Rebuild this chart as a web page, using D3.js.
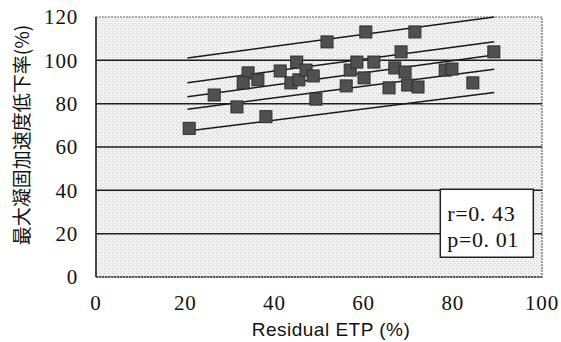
<!DOCTYPE html>
<html>
<head>
<meta charset="utf-8">
<script src="https://cdn.jsdelivr.net/npm/d3@7/dist/d3.min.js"></script>
<style>
  body { margin: 0; background: #fff; }
</style>
</head>
<body>
<div id="chart"></div>
<script>
// data
const etp = [20.9, 26.5, 31.6, 38.1, 34.1, 33.0, 36.3, 41.3, 45.0, 43.7, 45.5, 47.1, 48.7, 49.3, 51.8, 56.1,
  57.0, 58.5, 60.1, 60.5, 62.3, 65.7, 67.0, 68.4, 69.3, 69.9, 71.5, 72.2, 78.3, 79.8, 84.5, 89.2];
const decline = [68.6, 84.0, 78.5, 74.0, 94.2, 89.6, 91.0, 95.1, 99.2, 89.6, 91.0, 95.5, 92.8, 82.1, 108.5, 88.2,
  95.5, 99.2, 91.9, 113.1, 99.2, 87.3, 96.5, 103.9, 94.6, 88.6, 113.1, 87.7, 95.5, 96.0, 89.6, 103.9];

// fit line + bands, start / end
const lineX = [20.5, 89.3];
const lineStartY = [101.1, 89.7, 83.2, 77.4, 67.4];
const lineEndY = [120, 108.6, 102.5, 95.9, 85.1];

const xTicks = [0, 20, 40, 60, 80, 100];
const yTicks = [0, 20, 40, 60, 80, 100, 120];
const statLines = ['r=0. 43', 'p=0. 01'];
const xTitle = 'Residual ETP (%)';
const yTitle = '最大凝固加速度低下率(%)';

const width = 561, height = 342;
const margin = { top: 17, right: 19, bottom: 65, left: 96 };
const innerW = width - margin.left - margin.right;
const innerH = height - margin.top - margin.bottom;

const svg = d3.select('#chart').append('svg')
  .attr('width', width)
  .attr('height', height);

const x = d3.scaleLinear().domain([0, 100]).range([0, innerW]);
const y = d3.scaleLinear().domain([0, 120]).range([innerH, 0]);

const g = svg.append('g')
  .attr('transform', `translate(${margin.left},${margin.top})`);

// stippled grey plot area
const defs = svg.append('defs');
const pat = defs.append('pattern')
  .attr('id', 'stipple')
  .attr('width', 4).attr('height', 4)
  .attr('patternUnits', 'userSpaceOnUse');
pat.append('rect').attr('width', 4).attr('height', 4).attr('fill', '#f2f2f2');
pat.append('rect').attr('x', 0).attr('y', 0).attr('width', 1).attr('height', 1).attr('fill', '#c4c4c4');
pat.append('rect').attr('x', 2).attr('y', 2).attr('width', 1).attr('height', 1).attr('fill', '#cdcdcd');

g.append('rect')
  .attr('width', innerW)
  .attr('height', innerH)
  .attr('fill', 'url(#stipple)')
  .attr('stroke', '#666')
  .attr('stroke-width', 1.2)
  .attr('stroke-dasharray', '2,1');

// gridlines
g.selectAll('.grid')
  .data(yTicks.filter(d => d > 0 && d < 120))
  .enter().append('line')
  .attr('class', 'grid')
  .attr('x1', 0).attr('x2', innerW)
  .attr('y1', d => y(d)).attr('y2', d => y(d))
  .attr('stroke', '#1e1e1e')
  .attr('stroke-width', 1.5);

// left and bottom axis lines
g.append('line')
  .attr('x1', 0).attr('x2', 0).attr('y1', 0).attr('y2', innerH)
  .attr('stroke', '#222').attr('stroke-width', 1.5);
g.append('line')
  .attr('x1', 0).attr('x2', innerW).attr('y1', innerH).attr('y2', innerH)
  .attr('stroke', '#333').attr('stroke-width', 1.5).attr('stroke-dasharray', '2,1');

// tick labels
const serif = '"Liberation Serif", "DejaVu Serif", serif';
g.selectAll('.ylab')
  .data(yTicks)
  .enter().append('text')
  .attr('class', 'ylab')
  .attr('x', -18)
  .attr('y', d => y(d))
  .attr('dy', '0.35em')
  .attr('text-anchor', 'end')
  .attr('font-family', serif)
  .attr('font-size', 21)
  .attr('letter-spacing', 0.8)
  .attr('fill', '#111')
  .text(d => d);

g.selectAll('.xlab')
  .data(xTicks)
  .enter().append('text')
  .attr('class', 'xlab')
  .attr('x', d => x(d))
  .attr('y', innerH + 33)
  .attr('text-anchor', 'middle')
  .attr('font-family', serif)
  .attr('font-size', 21)
  .attr('letter-spacing', 0.8)
  .attr('fill', '#111')
  .text(d => d);

// titles
svg.append('text')
  .attr('x', 331)
  .attr('y', height - 6)
  .attr('text-anchor', 'middle')
  .attr('font-family', '"Liberation Sans", Arial, sans-serif')
  .attr('font-size', 19)
  .attr('letter-spacing', 0.5)
  .attr('fill', '#111')
  .text(xTitle);

svg.append('text')
  .attr('transform', `translate(29,${margin.top + innerH / 2 - 12}) rotate(-90)`)
  .attr('text-anchor', 'middle')
  .attr('font-family', '"Noto Sans CJK JP", sans-serif')
  .attr('font-size', 19)
  .attr('fill', '#111')
  .text(yTitle);

// fit line and bands
const lineData = lineStartY.map((s, i) => [[lineX[0], s], [lineX[1], lineEndY[i]]]);
g.selectAll('.band')
  .data(lineData)
  .enter().append('path')
  .attr('class', 'band')
  .attr('d', d3.line().x(d => x(d[0])).y(d => y(d[1])))
  .attr('fill', 'none')
  .attr('stroke', '#1a1a1a')
  .attr('stroke-width', 1.5);

// points
const sq = 12;
g.selectAll('.pt')
  .data(etp.map((v, i) => [v, decline[i]]))
  .enter().append('rect')
  .attr('class', 'pt')
  .attr('x', d => x(d[0]) - sq / 2)
  .attr('y', d => y(d[1]) - sq / 2)
  .attr('width', sq)
  .attr('height', sq)
  .attr('fill', '#505050')
  .attr('stroke', '#2e2e2e')
  .attr('stroke-width', 1);

// stats box
const box = g.append('g').attr('transform', `translate(${x(77.2)},${y(40.5)})`);
box.append('rect')
  .attr('width', 93)
  .attr('height', 68)
  .attr('fill', '#fff')
  .attr('stroke', '#222')
  .attr('stroke-width', 1.5);
box.selectAll('text')
  .data(statLines)
  .enter().append('text')
  .attr('x', 7)
  .attr('y', (d, i) => 32 + i * 26)
  .attr('font-family', serif)
  .attr('font-size', 22)
  .attr('letter-spacing', 0.6)
  .attr('fill', '#111')
  .text(d => d);
</script>
</body>
</html>
